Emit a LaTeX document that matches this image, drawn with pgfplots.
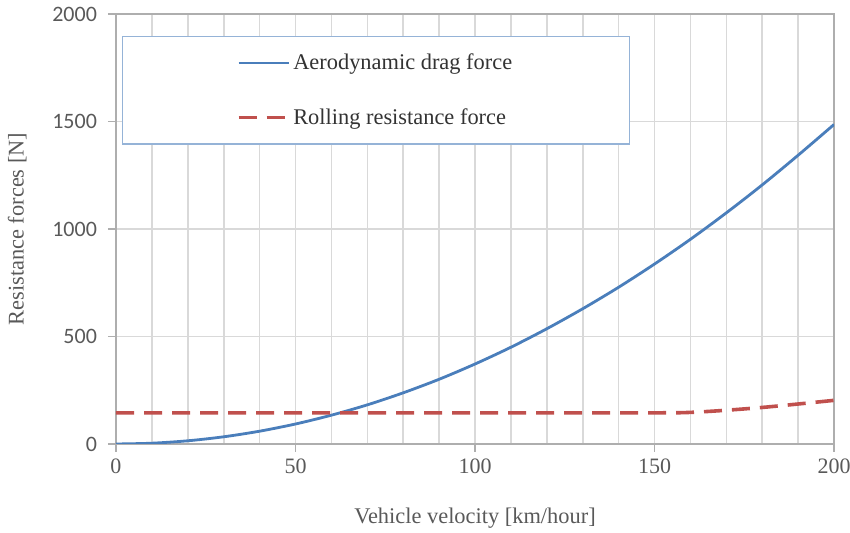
\documentclass[border=0pt]{standalone}
\usepackage{pgfplots}
\pgfplotsset{compat=1.18}
\usepackage{fontspec}
\setmainfont{Liberation Serif}
\newfontfamily\calibri{Carlito}
\definecolor{dragblue}{RGB}{74,126,187}
\definecolor{rollred}{RGB}{192,80,77}
\definecolor{txtgray}{RGB}{89,89,89}
\definecolor{gridgray}{RGB}{217,217,217}
\definecolor{legblue}{RGB}{149,179,215}

\begin{document}
\begin{tikzpicture}
\begin{axis}[
  scale only axis,
  width=359pt, height=215pt,
  xmin=0, xmax=200, ymin=0, ymax=2000,
  xtick={0,50,...,200}, ytick={0,500,...,2000},
  minor x tick num=4,
  minor tick length=0pt,
  major tick length=4pt,
  tick align=outside,
  tick pos=left,
  xmajorgrids, xminorgrids, ymajorgrids,
  grid style={gridgray, line width=0.8pt},
  minor grid style={gridgray, line width=0.8pt},
  axis line style={gridgray!80!black, line width=0.8pt},
  tick style={gridgray!80!black, line width=0.8pt},
  /pgf/number format/assume math mode=true,
  /pgf/number format/1000 sep={},
  xticklabel={\rmfamily\fontsize{11}{13}\selectfont\pgfmathprintnumber{\tick}},
  yticklabel={\calibri\fontsize{11}{13}\selectfont\pgfmathprintnumber{\tick}},
  xticklabel style={text=txtgray},
  yticklabel style={text=txtgray, xshift=-2pt},
  xlabel={Vehicle velocity [km/hour]},
  ylabel={Resistance forces [N]},
  label style={font=\rmfamily\fontsize{11.2}{13}\selectfont, text=txtgray},
  xlabel style={yshift=-10pt},
  ylabel style={yshift=6pt},
  legend style={at={(axis cs:1.7,1898)}, anchor=north west,
    draw=legblue, line width=0.6pt, fill=white,
    inner xsep=57pt, inner ysep=7pt, row sep=15pt,
    font=\rmfamily\fontsize{11.2}{13}\selectfont,
    nodes={inner sep=1.5pt, text=black!80}},
  legend cell align=left,
  legend image code/.code={\draw[#1] (0pt,0pt) -- (25pt,0pt);},
]
\addplot[dragblue, line width=1.4pt, smooth] coordinates {
  (0,0) (10,3.7) (20,14.9) (30,33.5) (40,59.5) (50,93) (60,134)
  (70,182) (80,238) (90,301) (100,372) (110,450) (120,536)
  (130,629) (140,729) (150,837) (160,952) (170,1075) (180,1205)
  (190,1343) (200,1486)
};
\addlegendentry{Aerodynamic drag force}
\addplot[rollred, line width=1.8pt, dash pattern=on 9pt off 5pt, smooth] coordinates {
  (0,145) (50,145) (100,145) (150,145) (160,147) (170,157)
  (180,170) (190,186) (200,203)
};
\addlegendentry{Rolling resistance force}
\end{axis}
\pgfresetboundingbox
\path ([shift={(-58pt,-44.5pt)}]current axis.south west)
  rectangle ([shift={(8pt,7pt)}]current axis.north east);
\end{tikzpicture}
\end{document}
